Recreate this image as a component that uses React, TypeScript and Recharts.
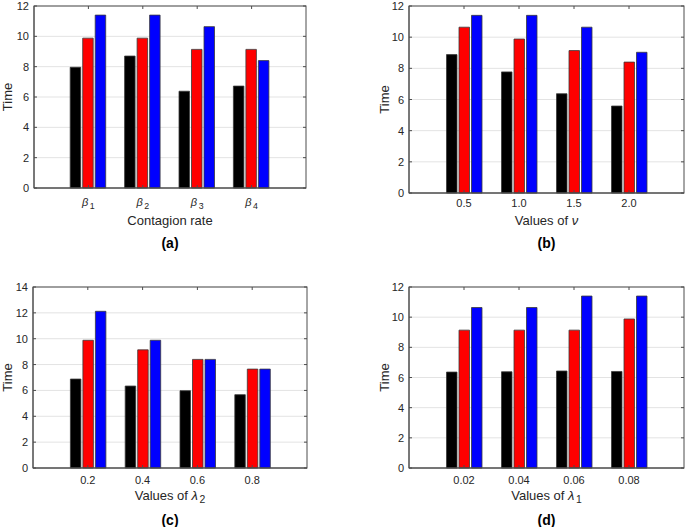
import { BarChart, Bar, XAxis, YAxis, CartesianGrid, Label } from "recharts";

const W = 685;
const H = 527;
const FONT = '"Liberation Sans", Arial, Helvetica, sans-serif';
const AXIS = "#4d4d4d";
const TEXT = "#262626";
const GRID = "#e3e3e3";
const BAR_STROKE = "#3a3a3a";

// tick labels
const contagionTicks = ["β1", "β2", "β3", "β4"];
const nuTicks = ["0.5", "1.0", "1.5", "2.0"];
const lambda2Ticks = ["0.2", "0.4", "0.6", "0.8"];
const lambda1Ticks = ["0.02", "0.04", "0.06", "0.08"];

const yTicks12 = [0, 2, 4, 6, 8, 10, 12];
const yTicks14 = [0, 2, 4, 6, 8, 10, 12, 14];

// (a) contagion rate
const aBlack = [7.96, 8.7, 6.38, 6.72];
const aRed = [9.88, 9.88, 9.14, 9.14];
const aBlue = [11.4, 11.4, 10.64, 8.4];

// (b) values of nu
const bBlack = [8.88, 7.77, 6.37, 5.58];
const bRed = [10.64, 9.88, 9.14, 8.4];
const bBlue = [11.4, 11.4, 10.64, 9.03];

// (c) values of lambda_2
const cBlack = [6.88, 6.34, 5.98, 5.67];
const cRed = [9.88, 9.14, 8.4, 7.65];
const cBlue = [12.12, 9.88, 8.4, 7.65];

// (d) values of lambda_1
const dBlack = [6.36, 6.38, 6.43, 6.4];
const dRed = [9.14, 9.14, 9.14, 9.88];
const dBlue = [10.64, 10.64, 11.4, 11.4];

type Row = { name: string; black: number; red: number; blue: number };

const toRows = (names: string[], k: number[], r: number[], b: number[]): Row[] =>
  names.map((name, i) => ({ name, black: k[i], red: r[i], blue: b[i] }));

type Part = { t: string; italic?: boolean; sub?: boolean };

type PanelCfg = {
  l: number;
  t: number;
  r: number;
  b: number;
  rows: Row[];
  yMax: number;
  yTicks: number[];
  tickY: number;
  xLabelY: number;
  yLabelX: number;
  panelY: number;
  panel: string;
  xLabel: Part[];
};

function renderParts(parts: Part[]) {
  return parts.map((p, i) => (
    <tspan
      key={i}
      fontStyle={p.italic ? "italic" : "normal"}
      fontSize={p.sub ? "0.8em" : undefined}
      dx={p.sub ? 1.5 : 0}
      dy={p.sub ? 4 : i > 0 && parts[i - 1].sub ? -4 : 0}
    >
      {p.t}
    </tspan>
  ));
}

function tickParts(name: string): Part[] {
  const m = name.match(/^β(\d)$/);
  if (m) return [{ t: "β", italic: true }, { t: m[1], sub: true }];
  return [{ t: name }];
}

function Panel({ cfg }: { cfg: PanelCfg }) {
  const { l, t, r, b } = cfg;
  const pad = (r - l) / 10;
  const xAxisH = 40;
  const cx = (l + r) / 2;
  const cy = (t + b) / 2;

  // ticks point inward, on the bottom and the top edge
  const bottomTick = (props: any) => {
    const { x, payload } = props;
    return (
      <g>
        <line x1={x} x2={x} y1={b} y2={b - 3} stroke={AXIS} />
        <line x1={x} x2={x} y1={t} y2={t + 3} stroke={AXIS} />
        <text
          x={x}
          y={cfg.tickY}
          textAnchor="middle"
          dominantBaseline="central"
          fontFamily={FONT}
          fontSize={11}
          fill={TEXT}
        >
          {renderParts(tickParts(payload.value))}
        </text>
      </g>
    );
  };

  const leftTick = (props: any) => {
    const { y, payload } = props;
    return (
      <g>
        <line x1={l} x2={l + 3} y1={y} y2={y} stroke={AXIS} />
        <line x1={r} x2={r - 3} y1={y} y2={y} stroke={AXIS} />
        <text
          x={l - 5}
          y={y}
          textAnchor="end"
          dominantBaseline="central"
          fontFamily={FONT}
          fontSize={11}
          fill={TEXT}
        >
          {payload.value}
        </text>
      </g>
    );
  };

  return (
    <div style={{ position: "absolute", left: 0, top: 0 }}>
      <BarChart
        width={W}
        height={H}
        data={cfg.rows}
        margin={{ top: t, right: W - r, bottom: H - b - xAxisH, left: 0 }}
        barSize={10.5}
        barGap={2}
      >
        <CartesianGrid vertical={false} stroke={GRID} />
        <Bar dataKey="black" fill="#000000" stroke={BAR_STROKE} strokeWidth={0.8} isAnimationActive={false} />
        <Bar dataKey="red" fill="#ff0000" stroke={BAR_STROKE} strokeWidth={0.8} isAnimationActive={false} />
        <Bar dataKey="blue" fill="#0000ff" stroke={BAR_STROKE} strokeWidth={0.8} isAnimationActive={false} />

        <XAxis
          dataKey="name"
          height={xAxisH}
          padding={{ left: pad, right: pad }}
          axisLine={{ stroke: AXIS }}
          tickLine={false}
          tick={bottomTick}
          interval={0}
        >
          <Label
            content={() => (
              <g>
                {/* box around the plot area */}
                <rect x={l} y={t} width={r - l} height={b - t} fill="none" stroke={AXIS} />
                <text
                  x={cx}
                  y={cfg.xLabelY}
                  textAnchor="middle"
                  dominantBaseline="central"
                  fontFamily={FONT}
                  fontSize={13}
                  fill={TEXT}
                >
                  {renderParts(cfg.xLabel)}
                </text>
                <text
                  x={cx}
                  y={cfg.panelY}
                  textAnchor="middle"
                  dominantBaseline="central"
                  fontFamily={FONT}
                  fontSize={14}
                  fontWeight="bold"
                  fill="#000"
                >
                  {cfg.panel}
                </text>
              </g>
            )}
          />
        </XAxis>
        <YAxis
          type="number"
          width={l}
          domain={[0, cfg.yMax]}
          ticks={cfg.yTicks}
          interval={0}
          axisLine={{ stroke: AXIS }}
          tickLine={false}
          tick={leftTick}
        >
          <Label
            content={() => (
              <text
                x={cfg.yLabelX}
                y={cy}
                transform={`rotate(-90, ${cfg.yLabelX}, ${cy})`}
                textAnchor="middle"
                dominantBaseline="central"
                fontFamily={FONT}
                fontSize={13}
                fill={TEXT}
              >
                Time
              </text>
            )}
          />
        </YAxis>
      </BarChart>
    </div>
  );
}

const panels: PanelCfg[] = [
  {
    l: 34, t: 6, r: 306, b: 188,
    rows: toRows(contagionTicks, aBlack, aRed, aBlue),
    yMax: 12, yTicks: yTicks12,
    tickY: 202, xLabelY: 220, yLabelX: 7, panelY: 243, panel: "(a)",
    xLabel: [{ t: "Contagion rate" }],
  },
  {
    l: 409, t: 6, r: 684, b: 193,
    rows: toRows(nuTicks, bBlack, bRed, bBlue),
    yMax: 12, yTicks: yTicks12,
    tickY: 203, xLabelY: 220, yLabelX: 384, panelY: 243, panel: "(b)",
    xLabel: [{ t: "Values of " }, { t: "ν", italic: true }],
  },
  {
    l: 33, t: 287, r: 307, b: 468,
    rows: toRows(lambda2Ticks, cBlack, cRed, cBlue),
    yMax: 14, yTicks: yTicks14,
    tickY: 480, xLabelY: 495, yLabelX: 7, panelY: 520, panel: "(c)",
    xLabel: [{ t: "Values of " }, { t: "λ", italic: true }, { t: "2", sub: true }],
  },
  {
    l: 409, t: 287, r: 684, b: 468,
    rows: toRows(lambda1Ticks, dBlack, dRed, dBlue),
    yMax: 12, yTicks: yTicks12,
    tickY: 480, xLabelY: 495, yLabelX: 384, panelY: 520, panel: "(d)",
    xLabel: [{ t: "Values of " }, { t: "λ", italic: true }, { t: "1", sub: true }],
  },
];

export default function App() {
  return (
    <div style={{ position: "absolute", left: 0, top: 0, width: W, height: H, background: "#fff" }}>
      {panels.map((p) => (
        <Panel key={p.panel} cfg={p} />
      ))}
    </div>
  );
}
